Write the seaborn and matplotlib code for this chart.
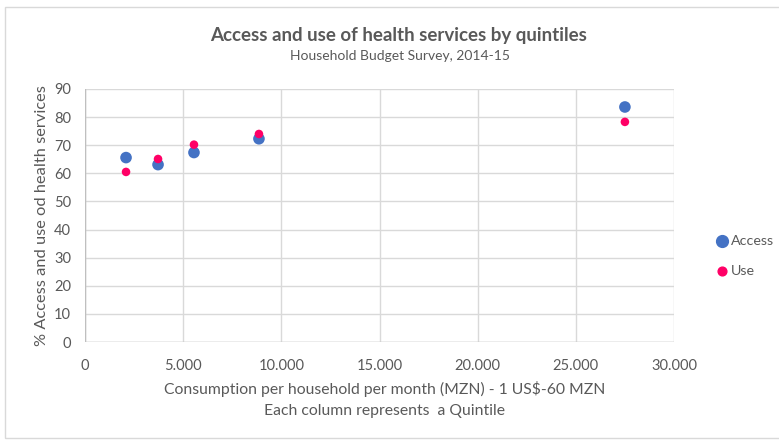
import matplotlib
matplotlib.use("Agg")
import matplotlib.pyplot as plt
import seaborn as sns
import pandas as pd

# Monthly consumption per household (MZN), one point per quintile
consumption = [2090, 3720, 5550, 8860, 27500]
access = [65.6, 63.1, 67.4, 72.3, 83.6]
use = [60.5, 65.1, 70.2, 74.0, 78.3]

x_ticks = [0, 5000, 10000, 15000, 20000, 25000, 30000]
x_tick_labels = ["0", "5.000", "10.000", "15.000", "20.000", "25.000", "30.000"]
y_ticks = list(range(0, 100, 10))

df = pd.concat([
    pd.DataFrame({"consumption": consumption, "pct": access, "series": "Access"}),
    pd.DataFrame({"consumption": consumption, "pct": use, "series": "Use"}),
])

sns.set_theme(style="white")
plt.rcParams["font.family"] = ["Lato", "DejaVu Sans"]

text_color = "#595959"
grid_color = "#d9d9d9"

fig = plt.figure(figsize=(7.79, 4.41), dpi=100)
ax = fig.add_axes([85 / 779, 1 - 342 / 441, (674 - 85) / 779, (342 - 89) / 441])

palette = {"Access": "#4472C4", "Use": "#FF0066"}
sizes = {"Access": 70, "Use": 38}
sns.scatterplot(data=df, x="consumption", y="pct", hue="series", size="series",
                palette=palette, sizes=sizes, linewidth=0, ax=ax, zorder=3,
                legend=False)

ax.set_xlim(0, 30000)
ax.set_ylim(0, 90)
ax.set_xticks(x_ticks)
ax.set_xticklabels(x_tick_labels)
ax.set_yticks(y_ticks)
ax.grid(True, color=grid_color, linewidth=1)
for side in ["top", "right", "left", "bottom"]:
    ax.spines[side].set_visible(False)
ax.axhline(0, color="#bfbfbf", linewidth=1, zorder=2)
ax.axvline(0, color="#bfbfbf", linewidth=1, zorder=2)
ax.tick_params(axis="x", length=0, labelsize=10.5, colors=text_color, pad=12)
ax.tick_params(axis="y", length=0, labelsize=10.5, colors=text_color, pad=10)

ax.set_xlabel("Consumption per household per month (MZN) - 1 US$-60 MZN\nEach column represents  a Quintile",
              fontsize=11.3, color=text_color, linespacing=1.6)
ax.xaxis.set_label_coords(0.509, -0.155, transform=ax.transAxes)
ax.xaxis.label.set_va("top")
ax.set_ylabel("% Access and use od health services", fontsize=11.8, color=text_color)
ax.yaxis.set_label_coords(-0.073, 0.5, transform=ax.transAxes)
ax.yaxis.label.set_va("center")

fig.text(399 / 779, 1 - 35 / 441, "Access and use of health services by quintiles", ha="center", va="center",
         fontsize=13.5, fontweight="bold", color=text_color)
fig.text(400 / 779, 1 - 56 / 441, "Household Budget Survey, 2014-15", ha="center", va="center",
         fontsize=10, color=text_color)

# Legend on the right, drawn in figure coordinates
fig.lines.append(matplotlib.lines.Line2D([722 / 779], [1 - 241 / 441], marker="o", markersize=8.5,
                                         color=palette["Access"], linestyle="none",
                                         transform=fig.transFigure))
fig.lines.append(matplotlib.lines.Line2D([722 / 779], [1 - 271 / 441], marker="o", markersize=6.3,
                                         color=palette["Use"], linestyle="none",
                                         transform=fig.transFigure))
fig.text(731 / 779, 1 - 241 / 441, "Access", va="center", fontsize=10.3, color=text_color)
fig.text(731 / 779, 1 - 271 / 441, "Use", va="center", fontsize=10.3, color=text_color)

# Outer chart frame
fig.patches.append(matplotlib.patches.Rectangle((5 / 779, 3 / 441), 1.0, 1 - 10 / 441, fill=False,
                                                 edgecolor="#d9d9d9", linewidth=1,
                                                 transform=fig.transFigure))

fig.savefig("out.png", dpi=100)
